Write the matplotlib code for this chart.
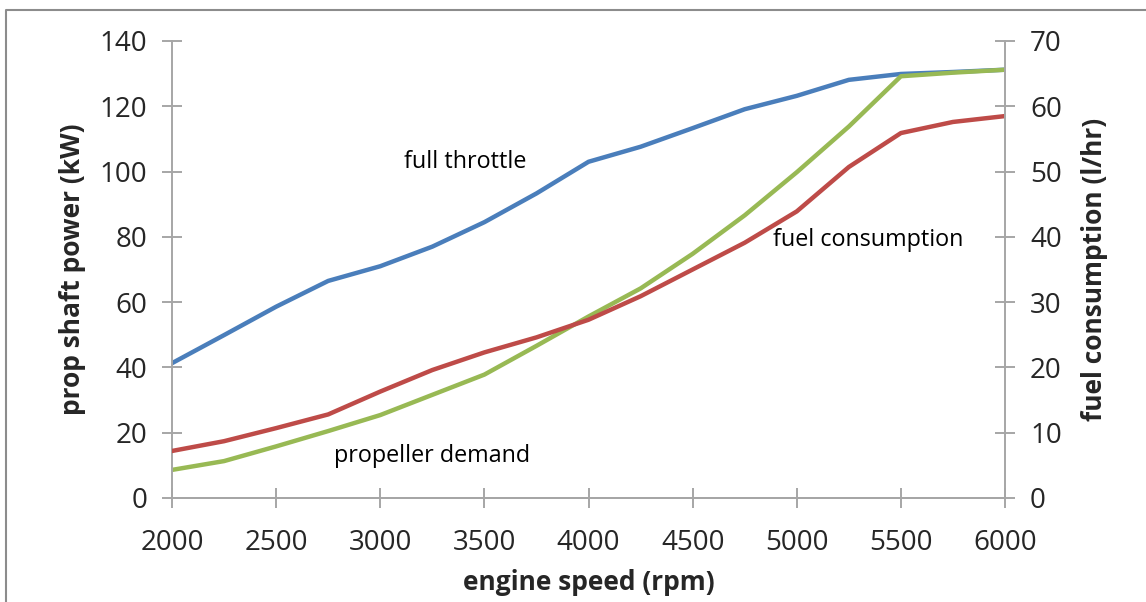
import matplotlib.pyplot as plt
from matplotlib.lines import Line2D

plt.rcParams['font.family'] = ['Open Sans', 'DejaVu Sans']

#engine speed steps (rpm)
rpm = [2000, 2250, 2500, 2750, 3000, 3250, 3500, 3750, 4000,
       4250, 4500, 4750, 5000, 5250, 5500, 5750, 6000]

#prop shaft power at full throttle (kW)
full_throttle = [41.3, 49.9, 58.6, 66.5, 71.0, 77.0, 84.5, 93.3, 103.0,
                 107.6, 113.3, 119.1, 123.2, 128.1, 129.9, 130.5, 131.2]

#propeller demand (kW)
prop_demand = [8.6, 11.3, 15.8, 20.5, 25.4, 31.6, 37.8, 46.6, 55.6,
               64.2, 74.8, 86.6, 99.8, 113.8, 129.2, 130.3, 131.2]

#fuel consumption (l/hr), right axis
fuel = [7.2, 8.7, 10.7, 12.8, 16.3, 19.6, 22.3, 24.6, 27.3,
        30.9, 35.0, 39.1, 43.9, 50.7, 55.9, 57.6, 58.5]

x_ticks = [2000, 2500, 3000, 3500, 4000, 4500, 5000, 5500, 6000]
left_ticks = [0, 20, 40, 60, 80, 100, 120, 140]
right_ticks = [0, 10, 20, 30, 40, 50, 60, 70]

grey = '#a6a6a6'
txt = '#262626'

fig = plt.figure(figsize=(11.46, 6.02), dpi=100)
ax = fig.add_axes([0.1501, 0.1728, 0.7269, 0.7591])
ax2 = ax.twinx()

ax.plot(rpm, full_throttle, color='#4a7ebb', lw=3.2, solid_joinstyle='round')
ax.plot(rpm, prop_demand, color='#98b954', lw=3.2, solid_joinstyle='round')
ax2.plot(rpm, fuel, color='#be4b48', lw=3.2, solid_joinstyle='round')

ax.set_xlim(2000, 6000)
ax.set_ylim(0, 140)
ax2.set_ylim(0, 70)
ax.set_xticks(x_ticks)
ax.set_yticks(left_ticks)
ax2.set_yticks(right_ticks)

for a in (ax, ax2):
    a.spines['top'].set_visible(False)
    for s in ('left', 'right', 'bottom'):
        a.spines[s].set_color(grey)
        a.spines[s].set_linewidth(1.4)
    a.tick_params(direction='inout', length=14, width=1.4, color=grey,
                  labelsize=20, labelcolor=txt, pad=11)
ax.tick_params(axis='x', pad=15)
ax2.spines['left'].set_visible(False)
ax.spines['right'].set_visible(False)

ax.set_xlabel('engine speed (rpm)', fontsize=19, fontweight='bold', color=txt, labelpad=9)
ax.set_ylabel('prop shaft power (kW)', fontsize=19, fontweight='bold', color=txt, labelpad=10)
ax2.set_ylabel('fuel consumption (l/hr)', fontsize=19, fontweight='bold', color=txt,
               rotation=90, labelpad=14)

#curve labels
ax.text(3407, 103, 'full throttle', fontsize=16.8, color='black', ha='center', va='center')
ax.text(3249, 12.9, 'propeller demand', fontsize=16.8, color='black', ha='center', va='center')
ax.text(5342, 79, 'fuel consumption', fontsize=16.8, color='black', ha='center', va='center')

#outer frame of the picture
fx = 5.5 / 1146
fy = 1 - 9.5 / 602
fig.add_artist(Line2D([fx, fx, 1.0], [0.0, fy, fy], transform=fig.transFigure,
                      color='#8c8c8c', lw=1.5))

fig.savefig('out.png', dpi=100)
